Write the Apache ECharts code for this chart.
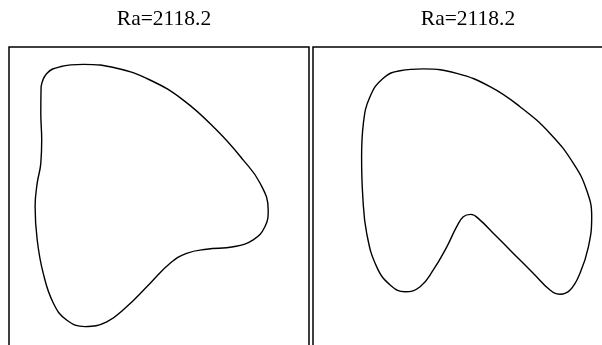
<!DOCTYPE html>
<html>
<head>
<meta charset="utf-8">
<script src="https://cdn.jsdelivr.net/npm/echarts@6/dist/echarts.min.js"></script>
<style>
  html, body { margin: 0; padding: 0; background: #fff; }
  #chart { width: 602px; height: 345px; }
</style>
</head>
<body>
<div id="chart"></div>
<script>
// Panel titles
const panelTitles = ['Ra=2118.2', 'Ra=2118.2'];

// Closed interface contour, left panel (x, y in unit-square coordinates)
const leftX = [0.107, 0.126, 0.170, 0.248, 0.359, 0.470, 0.581, 0.692, 0.781, 0.837, 0.864, 0.853,
               0.814, 0.748, 0.659, 0.592, 0.537, 0.470, 0.392, 0.326, 0.253, 0.192, 0.148, 0.114,
               0.094, 0.087, 0.094, 0.106, 0.109, 0.106, 0.107];
const leftY = [0.868, 0.912, 0.934, 0.942, 0.929, 0.890, 0.823, 0.723, 0.623, 0.546, 0.457, 0.401,
               0.357, 0.334, 0.326, 0.312, 0.279, 0.212, 0.134, 0.084, 0.068, 0.090, 0.146, 0.246,
               0.357, 0.468, 0.546, 0.612, 0.690, 0.779, 0.868];

// Closed interface contour, right panel
const rightX = [0.162, 0.168, 0.190, 0.234, 0.290, 0.368, 0.479, 0.590, 0.690, 0.790, 0.868, 0.912,
                0.929, 0.918, 0.890, 0.857, 0.823, 0.790, 0.734, 0.668, 0.601, 0.557, 0.526, 0.501,
                0.479, 0.446, 0.401, 0.357, 0.307, 0.257, 0.212, 0.179, 0.166, 0.162];
const rightY = [0.634, 0.746, 0.834, 0.896, 0.921, 0.927, 0.912, 0.868, 0.801, 0.712, 0.612, 0.523,
                0.434, 0.334, 0.246, 0.190, 0.176, 0.190, 0.246, 0.312, 0.379, 0.423, 0.442, 0.434,
                0.401, 0.334, 0.257, 0.201, 0.184, 0.207, 0.268, 0.379, 0.501, 0.634];

const zip = (xs, ys) => xs.map((x, i) => [x, ys[i]]);

const gridLeft = [9, 313];
const panelSize = 300;

const chart = echarts.init(document.getElementById('chart'), null, { renderer: 'canvas' });

const hiddenAxis = (idx) => ({
  type: 'value', gridIndex: idx, min: 0, max: 1,
  show: false, splitLine: { show: false }
});

chart.setOption({
  animation: false,
  backgroundColor: '#ffffff',
  title: panelTitles.map((t, i) => ({
    text: t,
    left: gridLeft[i] + panelSize / 2,
    top: 3,
    textAlign: 'center',
    textStyle: {
      fontFamily: 'Liberation Serif',
      fontSize: 21.5,
      fontWeight: 'normal',
      color: '#000'
    }
  })),
  // square panels that run past the right and bottom edges of the canvas
  grid: gridLeft.map(l => ({
    left: l, top: 47, width: panelSize, height: panelSize,
    outerBoundsMode: 'none', containLabel: false,
    show: true, borderColor: '#000', borderWidth: 1.5, backgroundColor: 'transparent'
  })),
  xAxis: [hiddenAxis(0), hiddenAxis(1)],
  yAxis: [hiddenAxis(0), hiddenAxis(1)],
  series: [
    {
      type: 'line', xAxisIndex: 0, yAxisIndex: 0,
      data: zip(leftX, leftY), smooth: 0.45, showSymbol: false,
      lineStyle: { color: '#000', width: 1.4 }
    },
    {
      type: 'line', xAxisIndex: 1, yAxisIndex: 1,
      data: zip(rightX, rightY), smooth: 0.45, showSymbol: false,
      lineStyle: { color: '#000', width: 1.4 }
    }
  ]
});
</script>
</body>
</html>
